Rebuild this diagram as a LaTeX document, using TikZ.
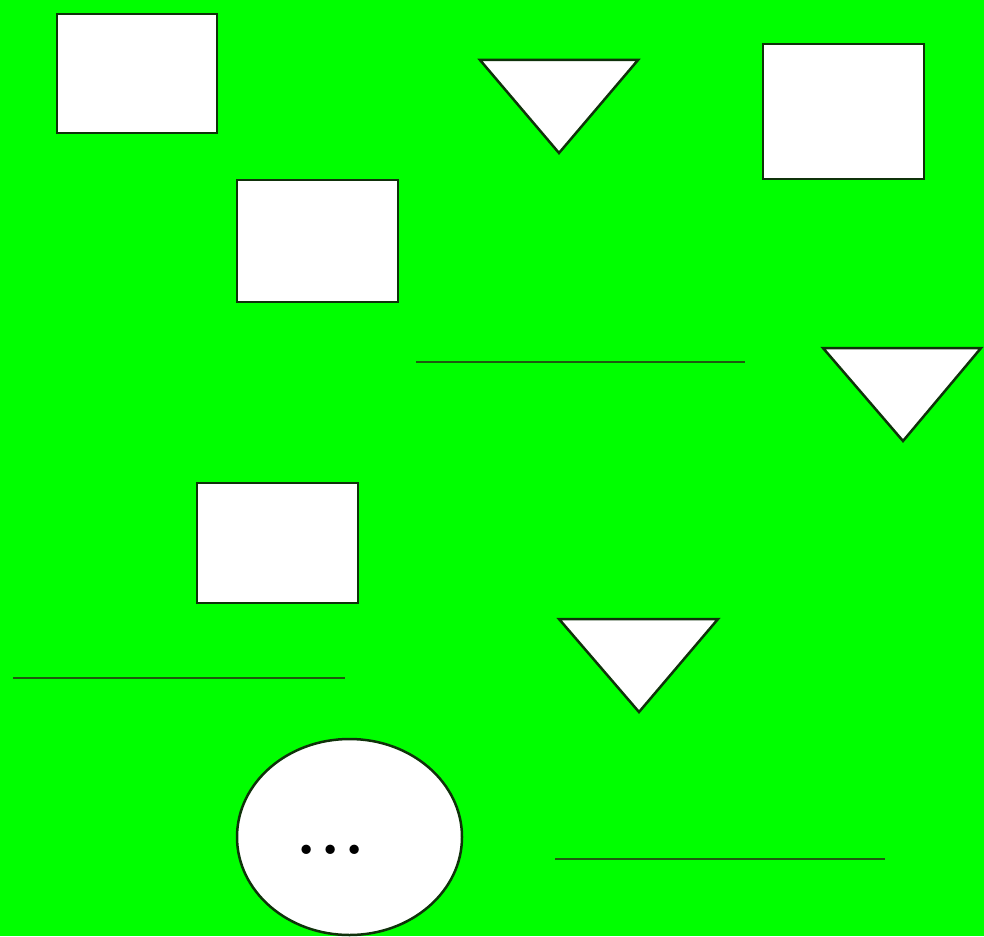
\documentclass[tikz,border=0pt]{standalone}
\usepackage{fontspec}
\usetikzlibrary{shapes.geometric}
\definecolor{bggreen}{RGB}{0,255,0}
\definecolor{edge}{RGB}{15,50,10}
\definecolor{ruleline}{RGB}{30,90,15}
\begin{document}
\begin{tikzpicture}[x=1pt,y=-1pt,
  box/.style={draw=edge,fill=white,line width=2.5pt,inner sep=0pt,outer sep=0pt},
  tri/.style={draw=edge,fill=white,line width=2.5pt,line join=miter},
  hline/.style={draw=ruleline,line width=1.8pt},
  oval/.style={ellipse,draw=edge,fill=white,line width=2.5pt,inner sep=0pt,outer sep=0pt}]
\useasboundingbox (0,0) rectangle (984,936);
\fill[bggreen] (0,0) rectangle (984,936);
% rectangles
\node[box,minimum width=160pt,minimum height=119pt] (r1) at (137,73.5) {};
\node[box,minimum width=161pt,minimum height=135pt] (r2) at (843.5,111.5) {};
\node[box,minimum width=161pt,minimum height=122pt] (r3) at (317.5,241) {};
\node[box,minimum width=161pt,minimum height=120pt] (r4) at (277.5,543) {};
% triangles
\draw[tri] (480,60) -- (638,60) -- (559,153) -- cycle;
\draw[tri] (823,348) -- (981,348) -- (903,441) -- cycle;
\draw[tri] (559,619) -- (718,619) -- (639,712) -- cycle;
% lines
\coordinate (l1a) at (416,362); \coordinate (l1b) at (745,362);
\coordinate (l2a) at (13,678);  \coordinate (l2b) at (345,678);
\coordinate (l3a) at (555,859); \coordinate (l3b) at (885,859);
\draw[hline] (l1a) -- (l1b);
\draw[hline] (l2a) -- (l2b);
\draw[hline] (l3a) -- (l3b);
% circle
\node[oval,minimum width=225pt,minimum height=196pt] (c1) at (349.5,837) {};
\node[anchor=base west,inner sep=0pt] (dots) at (296.6,854.5) {\fontsize{65}{70}\selectfont\bfseries .\kern3.3pt.\kern3.3pt.};
\end{tikzpicture}
\end{document}
